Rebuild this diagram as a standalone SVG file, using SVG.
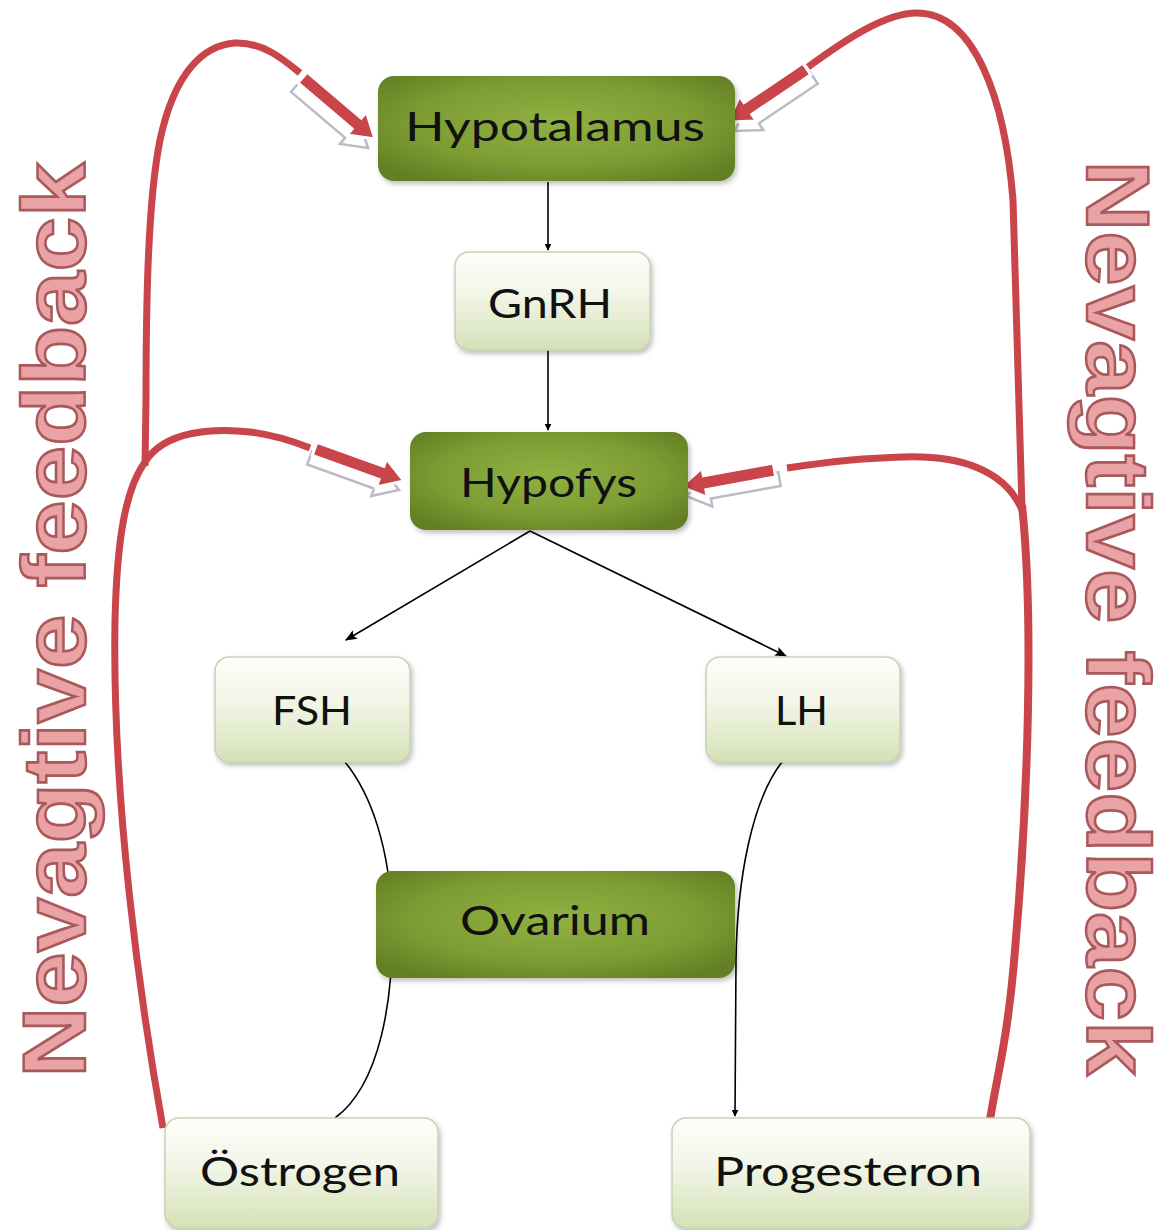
<svg xmlns="http://www.w3.org/2000/svg" width="1170" height="1230" viewBox="0 0 1170 1230">
<defs>
<radialGradient id="dark" cx="50%" cy="45%" r="65%">
<stop offset="0" stop-color="#90b142"/>
<stop offset="0.6" stop-color="#7d9d33"/>
<stop offset="1" stop-color="#627f25"/>
</radialGradient>
<linearGradient id="light" x1="0" y1="0" x2="0" y2="1">
<stop offset="0" stop-color="#fefefb"/>
<stop offset="0.45" stop-color="#f1f5e6"/>
<stop offset="1" stop-color="#d5e1b6"/>
</linearGradient>
<filter id="sh" x="-10%" y="-10%" width="125%" height="130%">
<feDropShadow dx="2" dy="3" stdDeviation="2.5" flood-color="#000" flood-opacity="0.25"/>
</filter>
<marker id="ah" viewBox="0 0 10 10" refX="9" refY="5" markerWidth="7" markerHeight="7" orient="auto" markerUnits="userSpaceOnUse">
<path d="M0,0 L10,5 L0,10 z" fill="#000"/>
</marker>
<marker id="ahb" viewBox="0 0 10 10" refX="9" refY="5" markerWidth="12" markerHeight="12" orient="auto" markerUnits="userSpaceOnUse">
<path d="M0,1 L10,5 L0,9 L2,5 z" fill="#000"/>
</marker>
<polygon id="bigArrow" points="-95,-7 -24,-7 -24,-15 0,0 -24,15 -24,7 -95,7"/>
</defs>
<style>
.dark{fill:url(#dark);filter:url(#sh)}
.light{fill:url(#light);stroke:#c9d1b4;stroke-width:1.5;filter:url(#sh)}
.lbl{font-family:Lato,"Open Sans","Liberation Sans",sans-serif;font-size:40px;fill:#111;text-anchor:start}
.fb{font-family:"Liberation Sans",Arial,sans-serif;font-weight:bold;font-size:89px;fill:#e9a3a5;stroke:#a9585b;stroke-width:2.5;text-anchor:middle}
.thin{fill:none;stroke:#000;stroke-width:1.6}
.red{fill:none;stroke:#c94549;stroke-width:7;stroke-linecap:butt}
.ra{fill:#c94549;stroke:#fff;stroke-width:3}
.rs{fill:#fff;stroke:#b9bcc6;stroke-width:2.5}
</style>
<rect width="1170" height="1230" fill="#fff"/>

<g id="labels">
<text class="fb" transform="translate(85,620) rotate(-90)" textLength="915" lengthAdjust="spacingAndGlyphs">Nevagtive feedback</text>
<text class="fb" transform="translate(1087,618) rotate(90)" textLength="915" lengthAdjust="spacingAndGlyphs">Nevagtive feedback</text>
</g>

<g id="connectors">
<line class="thin" x1="548" y1="182" x2="548" y2="250" marker-end="url(#ah)"/>
<line class="thin" x1="548" y1="350" x2="548" y2="430" marker-end="url(#ah)"/>
<line class="thin" x1="530" y1="531" x2="346" y2="640" marker-end="url(#ahb)"/>
<line class="thin" x1="530" y1="531" x2="786" y2="656" marker-end="url(#ahb)"/>
<path class="thin" d="M345,762 C372,795 390,850 392,920 C394,1000 380,1085 335,1118"/>
<path class="thin" d="M782,762 C752,800 737,880 736,960 L735,1116" marker-end="url(#ah)"/>

<path class="red" d="M163,1128 C140,1000 112,800 115,620 C117,540 125,490 145,462"/>
<path class="red" d="M145,466 L146,400 C146,300 148,200 160,140 C175,70 205,45 235,43 C262,42 282,58 300,73"/>
<path class="red" d="M145,462 C165,430 215,428 250,432 C275,435 295,442 310,448"/>
<path class="red" style="stroke-width:8" d="M990,1120 C996,1080 1008,1040 1015,950 C1028,800 1034,620 1022,505"/>
<path class="red" d="M1022,508 L1013,200 C1005,100 975,13 917,13 C885,13 845,40 808,67"/>
<path class="red" d="M1022,510 C1005,470 960,455 903,457 C860,458 820,463 787,468"/>

<use href="#bigArrow" class="rs" transform="translate(-7,9) translate(375,139) rotate(40.3)"/>
<use href="#bigArrow" class="ra" transform="translate(375,139) rotate(40.3)"/>
<use href="#bigArrow" class="rs" transform="translate(7,9) translate(728,122) rotate(146)"/>
<use href="#bigArrow" class="ra" transform="translate(728,122) rotate(146)"/>
<use href="#bigArrow" class="rs" transform="translate(-5,9) translate(404,481) rotate(19.8)"/>
<use href="#bigArrow" class="ra" transform="translate(404,481) rotate(19.8)"/>
<use href="#bigArrow" class="rs" transform="translate(5,9) translate(681,487) rotate(169.7)"/>
<use href="#bigArrow" class="ra" transform="translate(681,487) rotate(169.7)"/>
</g>

<g id="hypotalamus">
<rect class="dark" x="378" y="76" width="357" height="105" rx="16"/>
<text class="lbl" x="405" y="141" textLength="300" lengthAdjust="spacingAndGlyphs">Hypotalamus</text>
</g>
<g id="gnrh">
<rect class="light" x="455" y="252" width="195" height="98" rx="14"/>
<text class="lbl" x="488" y="318" textLength="124" lengthAdjust="spacingAndGlyphs">GnRH</text>
</g>
<g id="hypofys">
<rect class="dark" x="410" y="432" width="278" height="98" rx="16"/>
<text class="lbl" x="460" y="497" textLength="177" lengthAdjust="spacingAndGlyphs">Hypofys</text>
</g>
<g id="fsh">
<rect class="light" x="215" y="657" width="195" height="105" rx="14"/>
<text class="lbl" x="272" y="725" textLength="80" lengthAdjust="spacingAndGlyphs">FSH</text>
</g>
<g id="lh">
<rect class="light" x="706" y="657" width="194" height="105" rx="14"/>
<text class="lbl" x="775" y="725" textLength="53" lengthAdjust="spacingAndGlyphs">LH</text>
</g>
<g id="ovarium">
<rect class="dark" x="376" y="871" width="359" height="107" rx="16"/>
<text class="lbl" x="460" y="935" textLength="190" lengthAdjust="spacingAndGlyphs">Ovarium</text>
</g>
<g id="ostrogen">
<rect class="light" x="165" y="1118" width="273" height="110" rx="14"/>
<text class="lbl" x="200" y="1186" textLength="200" lengthAdjust="spacingAndGlyphs">Östrogen</text>
</g>
<g id="progesteron">
<rect class="light" x="672" y="1118" width="358" height="110" rx="14"/>
<text class="lbl" x="714" y="1186" textLength="268" lengthAdjust="spacingAndGlyphs">Progesteron</text>
</g>
</svg>
